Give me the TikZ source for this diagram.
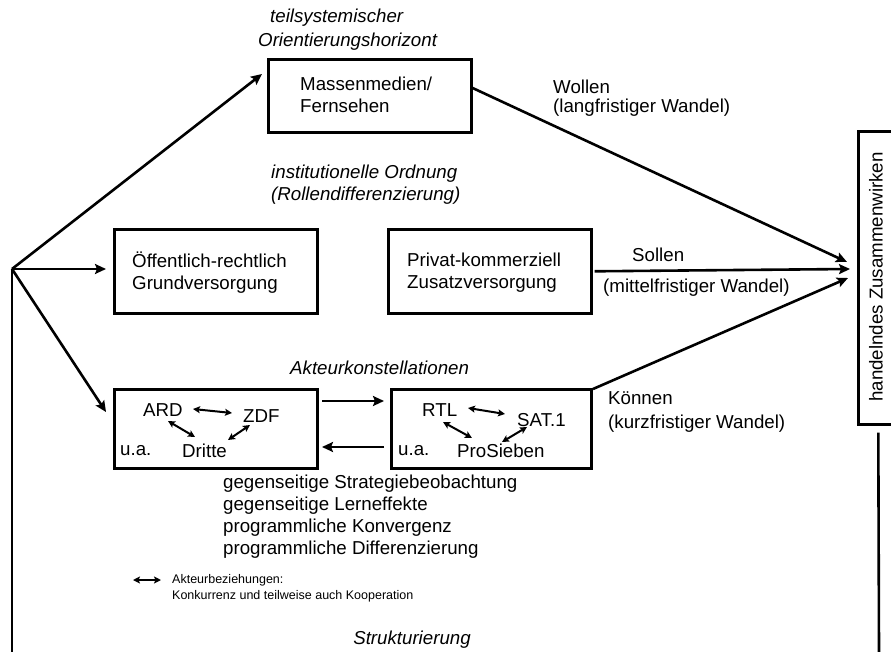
\documentclass[tikz,border=0pt]{standalone}
\usepackage{fontspec}
\setmainfont{Liberation Sans}
\usetikzlibrary{arrows.meta}
\begin{document}
\begin{tikzpicture}[x=1pt,y=-1pt,
  txt/.style={font=\fontsize{18.7}{22}\selectfont, inner sep=0pt, align=left, anchor=west},
  itxt/.style={font=\fontsize{18.7}{22}\selectfont\itshape, inner sep=0pt, align=left, anchor=west},
  small/.style={font=\fontsize{12.5}{16}\selectfont, inner sep=0pt, align=left, anchor=west},
  boxed/.style={draw, line width=2.6pt, inner sep=0pt, anchor=north west},
  conn/.style={line width=2.6pt, -{Stealth[length=11pt,width=10pt,inset=2pt]}},
  plain/.style={line width=2.6pt},
  rel/.style={line width=2pt, {Stealth[length=7pt,width=7pt,inset=1.5pt]}-{Stealth[length=7pt,width=7pt,inset=1.5pt]}}
]
\useasboundingbox (0,0) rectangle (891,652);

% boxes
\node[boxed, minimum width=203pt, minimum height=73pt] (mm) at (267,58) {};
\node[boxed, minimum width=203pt, minimum height=84pt] (oeff) at (113,228) {};
\node[boxed, minimum width=203pt, minimum height=84pt] (priv) at (387,228) {};
\node[boxed, minimum width=203pt, minimum height=79pt] (ard) at (113,388) {};
\node[boxed, minimum width=200pt, minimum height=79pt] (rtl) at (390,388) {};
\node[boxed, minimum width=40pt, minimum height=293pt] (hz) at (857,130) {};

% box texts
\node[txt] (mmt) at (300,95) {Massenmedien/\\Fernsehen};
\node[txt] (oefft) at (132,273) {Öffentlich-rechtlich\\Grundversorgung};
\node[txt] (privt) at (407,273) {Privat-kommerziell\\Zusatzversorgung};
\node[txt] (hzt) at (876,277) [anchor=center, rotate=90] {handelndes Zusammenwirken};

% actors
\node[txt] (ARD) at (143,410) {ARD};
\node[txt] (ZDF) at (243,416) {ZDF};
\node[txt] (ua1) at (120,451) {u.a.};
\node[txt] (Dritte) at (182,451) {Dritte};
\node[txt] (RTL) at (422,410) {RTL};
\node[txt] (SAT) at (517,420) {SAT.1};
\node[txt] (ua2) at (398,451) {u.a.};
\node[txt] (Pro) at (457,451) {ProSieben};

\coordinate (a1) at (193,409); \coordinate (a2) at (232,413);
\coordinate (a3) at (168,421); \coordinate (a4) at (195,437);
\coordinate (a5) at (228,440); \coordinate (a6) at (250,425);
\coordinate (r1) at (468,408); \coordinate (r2) at (505,414);
\coordinate (r3) at (443,422); \coordinate (r4) at (472,438);
\coordinate (r5) at (502,442); \coordinate (r6) at (527,427);
\draw[rel] (a1) -- (a2);
\draw[rel] (a3) -- (a4);
\draw[rel] (a5) -- (a6);
\draw[rel] (r1) -- (r2);
\draw[rel] (r3) -- (r4);
\draw[rel] (r5) -- (r6);

% labels
\node[itxt] (l1) at (270,18) {teilsystemischer};
\node[itxt] (l2) at (258,42) {Orientierungshorizont};
\node[itxt] (l3) at (271,185) {institutionelle Ordnung\\(Rollendifferenzierung)};
\node[itxt] (l4) at (290,368) {Akteurkonstellationen};
\node[txt] (w1) at (553,87) {Wollen};
\node[txt] (w2) at (553,108) {(langfristiger Wandel)};
\node[txt] (s1) at (632,255) {Sollen};
\node[txt] (s2) at (603,288) {(mittelfristiger Wandel)};
\node[txt] (k1) at (608,398) {Können};
\node[txt] (k2) at (608,424) {(kurzfristiger Wandel)};
\node[txt, anchor=north west] (eff) at (223,475) {gegenseitige Strategiebeobachtung\\gegenseitige Lerneffekte\\programmliche Konvergenz\\programmliche Differenzierung};
\coordinate (lg1) at (133,580);
\coordinate (lg2) at (161,580);
\draw[rel] (lg1) -- (lg2);
\node[small] (lgt) at (172,588) {Akteurbeziehungen:\\Konkurrenz und teilweise auch Kooperation};
\node[itxt, anchor=center] (str) at (412,640) {Strukturierung};

% connectors
\coordinate (hub) at (12,269);
\coordinate (bl) at (12,652);
\coordinate (mmin) at (262,74);
\coordinate (oin) at (106,269);
\coordinate (ain) at (106,412);
\coordinate (wt) at (847,262);
\coordinate (st) at (850,269);
\coordinate (kt) at (848,278);
\coordinate (br) at (879,652);
\coordinate (ks) at (593,389);
\coordinate (t1a) at (322,401); \coordinate (t1b) at (384,401);
\coordinate (t2a) at (384,447); \coordinate (t2b) at (322,447);
\draw[plain] (hub) -- (bl);
\draw[conn] (hub) -- (mmin);
\draw[conn] (hub) -- (oin);
\draw[conn] (hub) -- (ain);
\draw[conn] (mm.east |- 0,88) -- (wt);
\draw[conn] ([xshift=2pt]priv.east) -- (st);
\draw[conn] (ks) -- (kt);
\draw[conn] (t1a) -- (t1b);
\draw[conn] (t2a) -- (t2b);
\draw[plain] ([yshift=-7pt]hz.south) -- (br);
\end{tikzpicture}
\end{document}
